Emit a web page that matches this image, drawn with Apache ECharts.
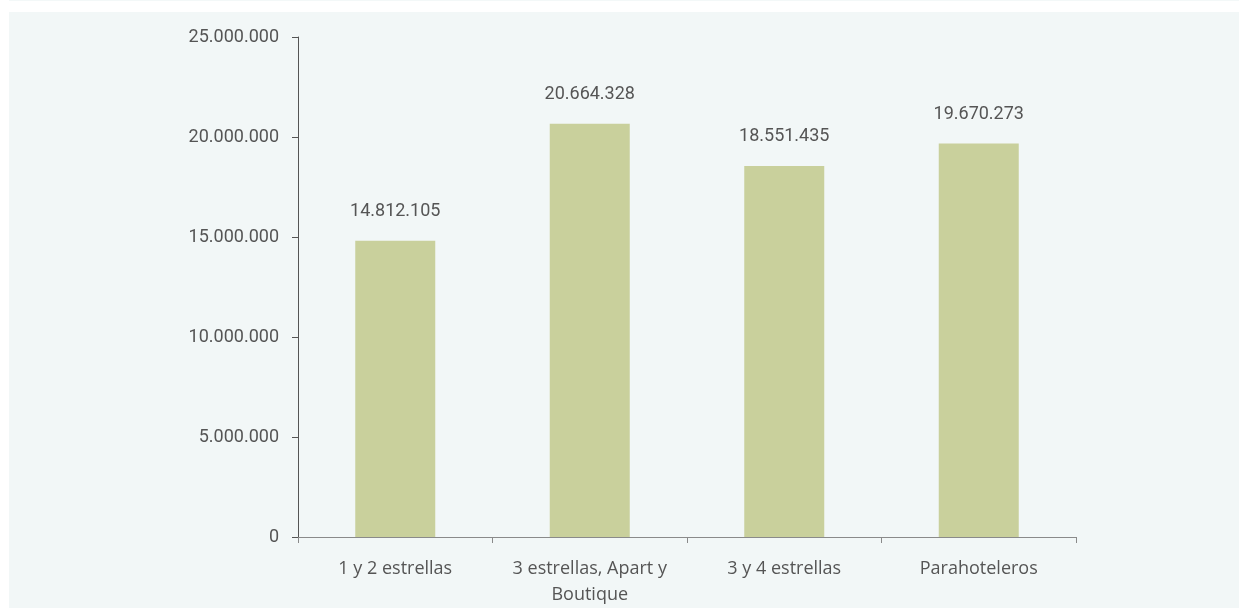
<!DOCTYPE html>
<html>
<head>
<meta charset="utf-8">
<script src="https://cdn.jsdelivr.net/npm/echarts@6/dist/echarts.min.js"></script>
<style>
html,body{margin:0;padding:0;background:#ffffff;width:1239px;height:608px;overflow:hidden;}
#strip{position:absolute;left:9px;top:0;width:1230px;height:1px;background:#f3f8f8;}
#panel{position:absolute;left:9px;top:12px;width:1230px;height:596px;background:#f2f7f7;}
#chart{position:absolute;left:0;top:0;width:1239px;height:608px;}
</style>
</head>
<body>
<div id="strip"></div>
<div id="panel"></div>
<div id="chart"></div>
<script>
const categories = ['1 y 2 estrellas', '3 estrellas, Apart y\nBoutique', '3 y 4 estrellas', 'Parahoteleros'];
const values = [14812105, 20664328, 18551435, 19670273];
const yMin = 0, yMax = 25000000, yStep = 5000000;

function fmt(v){
  return String(Math.round(v)).replace(/\B(?=(\d{3})+(?!\d))/g, '.');
}

const chart = echarts.init(document.getElementById('chart'), null, {renderer:'canvas'});
chart.setOption({
  backgroundColor: 'transparent',
  animation: false,
  grid: {left: 298, right: 163, top: 37, bottom: 69, containLabel: false},
  xAxis: {
    type: 'category',
    data: categories,
    axisLine: {show: true, lineStyle: {color: '#8a8a8a', width: 1}},
    axisTick: {show: true, length: 6, lineStyle: {color: '#8a8a8a'}},
    axisLabel: {color: '#555555', fontSize: 18, fontFamily: 'Open Sans, sans-serif', margin: 19, lineHeight: 26, interval: 0},
    splitLine: {show: false}
  },
  yAxis: {
    type: 'value',
    min: yMin, max: yMax, interval: yStep,
    axisLine: {show: true, lineStyle: {color: '#555555', width: 1}},
    axisTick: {show: true, length: 6, lineStyle: {color: '#555555'}},
    axisLabel: {color: '#555555', fontSize: 18, fontFamily: 'Roboto, sans-serif', margin: 19, formatter: fmt},
    splitLine: {show: false}
  },
  series: [{
    type: 'bar',
    data: values,
    barWidth: 80,
    itemStyle: {color: '#c9d09c'},
    label: {show: true, position: 'top', distance: 20, color: '#555555', fontSize: 18, fontFamily: 'Roboto, sans-serif', formatter: p => fmt(p.value)}
  }]
});
</script>
</body>
</html>
